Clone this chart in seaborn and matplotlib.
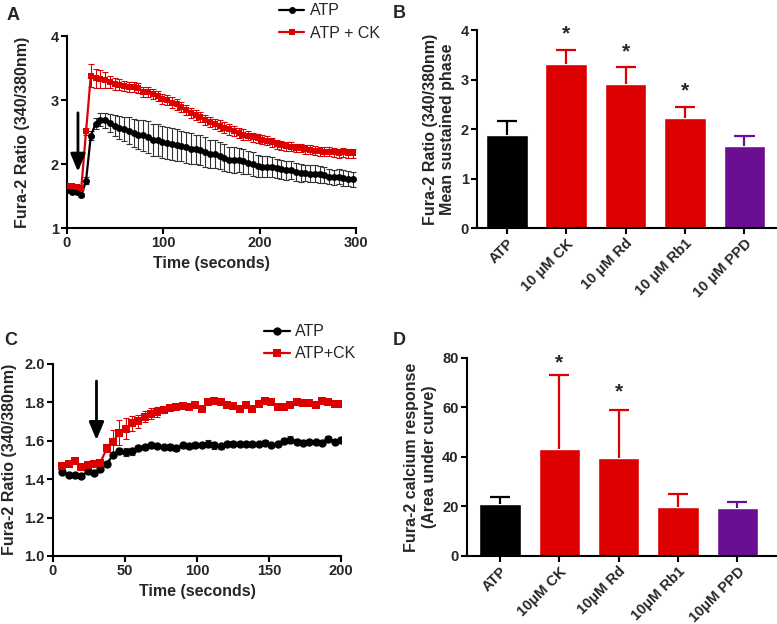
import numpy as np
import pandas as pd
import matplotlib
matplotlib.use("Agg")
import matplotlib.pyplot as plt
import seaborn as sns

sns.set_theme(style="ticks")
plt.rcParams['font.family'] = ['Liberation Sans', 'DejaVu Sans']
plt.rcParams['font.weight'] = 'bold'
plt.rcParams['axes.labelweight'] = 'bold'

RED = '#dd0000'
PURPLE = '#6a0f92'

# ---- panel A: time course, 300 s ----
time_a = np.round(np.arange(61) * 4.95, 2)
atp_a = [1.59, 1.57, 1.56, 1.51, 1.74, 2.44, 2.63, 2.69, 2.68, 2.64,
         2.60, 2.57, 2.55, 2.52, 2.48, 2.46, 2.45, 2.42, 2.38, 2.37,
         2.35, 2.33, 2.31, 2.29, 2.28, 2.26, 2.24, 2.23, 2.22, 2.19,
         2.16, 2.15, 2.13, 2.10, 2.07, 2.06, 2.06, 2.04, 2.02, 2.00,
         1.97, 1.96, 1.96, 1.95, 1.93, 1.92, 1.90, 1.91, 1.88, 1.86,
         1.86, 1.85, 1.85, 1.84, 1.83, 1.80, 1.79, 1.80, 1.78, 1.77, 1.76]
atp_a_err = [0.03, 0.03, 0.03, 0.03, 0.05, 0.07, 0.09, 0.10, 0.12, 0.14,
             0.16, 0.18, 0.19, 0.21, 0.22, 0.23, 0.24, 0.25, 0.25, 0.25,
             0.25, 0.25, 0.25, 0.25, 0.24, 0.24, 0.24, 0.23, 0.23, 0.23,
             0.22, 0.22, 0.21, 0.21, 0.20, 0.20, 0.19, 0.19, 0.18, 0.18,
             0.17, 0.17, 0.16, 0.16, 0.15, 0.15, 0.15, 0.14, 0.14, 0.14,
             0.13, 0.13, 0.13, 0.13, 0.12, 0.12, 0.12, 0.12, 0.12, 0.12, 0.12]
ck_a = [1.65, 1.65, 1.64, 1.62, 2.51, 3.38, 3.34, 3.33, 3.31, 3.28,
        3.25, 3.24, 3.22, 3.20, 3.20, 3.19, 3.13, 3.12, 3.09, 3.06,
        3.02, 3.00, 2.96, 2.93, 2.89, 2.84, 2.80, 2.77, 2.73, 2.69,
        2.66, 2.63, 2.60, 2.57, 2.54, 2.51, 2.49, 2.46, 2.44, 2.42,
        2.40, 2.38, 2.36, 2.34, 2.31, 2.29, 2.28, 2.27, 2.25, 2.25,
        2.23, 2.22, 2.21, 2.20, 2.19, 2.19, 2.18, 2.17, 2.18, 2.17, 2.17]
ck_a_err = [0.03, 0.03, 0.03, 0.03, 0.06, 0.18, 0.15, 0.14, 0.12, 0.10,
            0.09, 0.09, 0.08, 0.08, 0.08, 0.08, 0.08, 0.08, 0.08, 0.08,
            0.08, 0.08, 0.08, 0.08, 0.08, 0.08, 0.08, 0.08, 0.08, 0.08,
            0.08, 0.08, 0.08, 0.08, 0.08, 0.08, 0.08, 0.08, 0.07, 0.07,
            0.07, 0.07, 0.07, 0.07, 0.07, 0.07, 0.07, 0.07, 0.07, 0.07,
            0.07, 0.07, 0.07, 0.07, 0.07, 0.07, 0.07, 0.07, 0.07, 0.07, 0.07]

# ---- panel B: mean sustained phase ----
cond_b = ['ATP', '10 μM CK', '10 μM Rd', '10 μM Rb1', '10 μM PPD']
mean_b = [1.87, 3.31, 2.91, 2.23, 1.65]
err_b = [0.30, 0.29, 0.34, 0.22, 0.20]
star_b = [None, 3.93, 3.55, 2.77, None]

# ---- panel C: time course, 200 s ----
time_c = np.round(6.5 + np.arange(45) * 4.4, 2)
atp_c = [1.438, 1.420, 1.420, 1.415, 1.440, 1.430, 1.450, 1.480, 1.525, 1.545,
         1.540, 1.545, 1.560, 1.565, 1.575, 1.570, 1.565, 1.565, 1.560, 1.575,
         1.570, 1.577, 1.575, 1.585, 1.577, 1.570, 1.580, 1.585, 1.585, 1.580,
         1.580, 1.585, 1.590, 1.575, 1.580, 1.600, 1.605, 1.595, 1.590, 1.595,
         1.595, 1.590, 1.610, 1.595, 1.605]
atp_c_err = [0.010, 0.008, 0.008, 0.010, 0.008, 0.008, 0.008, 0.012, 0.012, 0.015,
             0.020, 0.018, 0.015, 0.012, 0.012, 0.010, 0.010, 0.015, 0.012, 0.010,
             0.015, 0.015, 0.010, 0.020, 0.018, 0.015, 0.010, 0.012, 0.010, 0.010,
             0.015, 0.010, 0.015, 0.008, 0.010, 0.012, 0.018, 0.015, 0.012, 0.010,
             0.010, 0.015, 0.012, 0.010, 0.012]
ck_c = [1.470, 1.480, 1.492, 1.465, 1.475, 1.478, 1.485, 1.560, 1.595, 1.640,
        1.662, 1.690, 1.700, 1.725, 1.740, 1.750, 1.760, 1.770, 1.775, 1.780,
        1.775, 1.787, 1.764, 1.803, 1.808, 1.800, 1.787, 1.780, 1.764, 1.785,
        1.764, 1.788, 1.806, 1.803, 1.773, 1.776, 1.787, 1.800, 1.797, 1.795,
        1.787, 1.808, 1.800, 1.789, 1.790]
ck_c_err = [0.008, 0.008, 0.008, 0.008, 0.008, 0.008, 0.010, 0.020, 0.060, 0.065,
            0.055, 0.040, 0.035, 0.030, 0.030, 0.025, 0.015, 0.010, 0.010, 0.010,
            0.008, 0.008, 0.008, 0.008, 0.008, 0.008, 0.008, 0.008, 0.015, 0.008,
            0.010, 0.008, 0.008, 0.008, 0.010, 0.008, 0.008, 0.008, 0.008, 0.008,
            0.008, 0.008, 0.008, 0.008, 0.008]

# ---- panel D: area under curve ----
cond_d = ['ATP', '10μM CK', '10μM Rd', '10μM Rb1', '10μM PPD']
mean_d = [21.0, 43.4, 39.7, 19.8, 19.3]
err_d = [2.9, 29.9, 19.4, 5.3, 2.6]
star_d = [None, 77.9, 66.4, None, None]

bar_colors = ['black', RED, RED, RED, PURPLE]

fig = plt.figure(figsize=(7.77, 6.24), dpi=100)
axA = fig.add_axes([0.0862, 0.6346, 0.3718, 0.3077])
axB = fig.add_axes([0.614, 0.6346, 0.3847, 0.3173])
axC = fig.add_axes([0.0682, 0.109, 0.3707, 0.3081])
axD = fig.add_axes([0.601, 0.109, 0.3977, 0.3173])

LBL = 11.5
TCK = 10.5


def style(ax):
    for s in ['top', 'right']:
        ax.spines[s].set_visible(False)
    for s in ['left', 'bottom']:
        ax.spines[s].set_linewidth(1.5)
        ax.spines[s].set_color('black')
    ax.tick_params(width=1.5, length=4, color='black', labelsize=TCK, pad=2)
    for t in ax.get_xticklabels() + ax.get_yticklabels():
        t.set_fontweight('bold')


def timecourse(ax, t, y1, e1, y2, e2, labels, ms):
    ax.errorbar(t, y1, yerr=e1, fmt='none', ecolor='#333333', elinewidth=0.8,
                capsize=2.5, capthick=0.8, zorder=2)
    ax.errorbar(t, y2, yerr=e2, fmt='none', ecolor=RED, elinewidth=0.8,
                capsize=2.5, capthick=0.8, zorder=2)
    sns.lineplot(x=t, y=y1, ax=ax, color='black', marker='o', markersize=ms,
                 markeredgewidth=0, lw=1.6, label=labels[0], zorder=3)
    sns.lineplot(x=t, y=y2, ax=ax, color=RED, marker='s', markersize=ms,
                 markeredgewidth=0, lw=1.6, label=labels[1], zorder=3)
    ax.legend(loc='upper left', frameon=False,
              prop={'weight': 'normal', 'size': 11.5},
              handlelength=1.6, handletextpad=0.35, labelspacing=0.45,
              borderpad=0.1)


def bars(ax, cond, mean, err, stars, star_size):
    df = pd.DataFrame({'cond': cond, 'val': mean})
    sns.barplot(data=df, x='cond', y='val', hue='cond', palette=bar_colors,
                legend=False, width=0.7, saturation=1, ax=ax)
    for i, (m, e) in enumerate(zip(mean, err)):
        # error bar drawn upward only, as in the original figure
        ax.vlines(i, m, m + e, color=bar_colors[i], lw=1.6, zorder=1)
        ax.hlines(m + e, i - 0.17, i + 0.17, color=bar_colors[i], lw=1.6, zorder=1)
        if stars[i] is not None:
            ax.text(i, stars[i], '*', ha='center', va='center',
                    fontsize=star_size, fontweight='bold')
    ax.set_xlabel('')
    ax.set_xticks(range(len(cond)))
    ax.set_xticklabels(cond, rotation=45, ha='right', rotation_mode='anchor',
                       fontweight='bold')


# panel A
timecourse(axA, time_a, atp_a, atp_a_err, ck_a, ck_a_err, ['ATP', 'ATP + CK'], 5)
axA.legend_.set_bbox_to_anchor((0.70, 1.22), transform=axA.transAxes)
axA.set_xlim(0, 300)
axA.set_ylim(1, 4)
axA.set_xticks([0, 100, 200, 300])
axA.set_yticks([1, 2, 3, 4])
axA.set_xlabel('Time (seconds)', fontsize=LBL)
axA.set_ylabel('Fura-2 Ratio (340/380nm)', fontsize=LBL, labelpad=15)
axA.annotate('', xy=(11.4, 1.88), xytext=(11.4, 2.80),
             arrowprops=dict(arrowstyle='-|>,head_length=0.6,head_width=0.25',
                             color='black', lw=2, mutation_scale=18,
                             shrinkA=0, shrinkB=0))
style(axA)

# panel B
bars(axB, cond_b, mean_b, err_b, star_b, 15)
axB.set_xlim(-0.5, 4.53)
axB.set_ylim(0, 4)
axB.set_yticks([0, 1, 2, 3, 4])
axB.set_ylabel('Fura-2 Ratio (340/380nm)\nMean sustained phase', fontsize=LBL)
style(axB)

# panel C
timecourse(axC, time_c, atp_c, atp_c_err, ck_c, ck_c_err, ['ATP', 'ATP+CK'], 6)
axC.legend_.set_bbox_to_anchor((0.70, 1.255), transform=axC.transAxes)
axC.set_xlim(0, 200)
axC.set_ylim(1.0, 2.0)
axC.set_xticks([0, 50, 100, 150, 200])
axC.set_yticks([1.0, 1.2, 1.4, 1.6, 1.8, 2.0])
axC.set_yticklabels(['1.0', '1.2', '1.4', '1.6', '1.8', '2.0'])
axC.set_xlabel('Time (seconds)', fontsize=LBL)
axC.set_ylabel('Fura-2 Ratio (340/380nm)', fontsize=LBL, labelpad=5)
axC.annotate('', xy=(30.2, 1.603), xytext=(30.2, 1.91),
             arrowprops=dict(arrowstyle='-|>,head_length=0.6,head_width=0.25',
                             color='black', lw=2, mutation_scale=18,
                             shrinkA=0, shrinkB=0))
style(axC)

# panel D
bars(axD, cond_d, mean_d, err_d, star_d, 15)
axD.set_xlim(-0.556, 4.65)
axD.set_ylim(0, 80)
axD.set_yticks([0, 20, 40, 60, 80])
axD.set_ylabel('Fura-2 calcium response\n(Area under curve)', fontsize=LBL)
style(axD)

for x, y, s in [(0.008, 0.975, 'A'), (0.505, 0.978, 'B'),
                (0.005, 0.455, 'C'), (0.505, 0.455, 'D')]:
    fig.text(x, y, s, fontsize=13, fontweight='bold', va='center', ha='left')

fig.savefig('out.png', dpi=100)
